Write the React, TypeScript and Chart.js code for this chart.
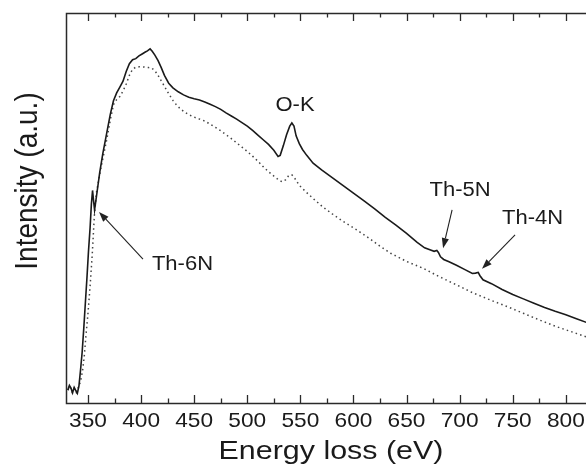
import React, { useEffect, useRef } from "react";
import { Chart, registerables } from "chart.js";
Chart.register(...registerables);

// ---- data (Energy loss in eV, intensity in arbitrary units) ----
const solidEnergy = [331, 332.5, 334, 335.5, 337, 338.5, 340, 341.5, 343, 344.5, 346, 347.5, 349, 350.5, 352, 353.2, 354.3, 355.2, 356.2, 357.5, 359, 361, 364, 367.5, 371, 374, 377, 380, 383, 386, 389, 392, 395, 398, 401, 404, 406, 408.5, 410.5, 413, 416, 419, 422, 426, 430, 435, 440, 445, 450, 455, 460, 465, 470, 475, 480, 485, 490, 495, 500, 505, 510, 515, 520, 525, 529, 531, 534, 537, 540, 542, 544, 546, 549, 552, 556, 562, 570, 580, 590, 600, 610, 620, 630, 640, 650, 660, 667, 672, 676, 678.5, 680, 682, 685, 690, 697, 705, 712, 715, 717.5, 719, 722, 730, 740, 750, 760, 770, 780, 790, 800, 810, 820];
const solidIntensity = [3.3, 4.5, 3.8, 2.6, 4.0, 3.2, 2.5, 4.4, 8.5, 13, 19, 25.5, 32, 39, 45, 51, 54.5, 52, 49.5, 52, 55, 59, 64, 69, 74, 77.5, 79.5, 81, 82.5, 85, 87, 88, 88.3, 89, 89.5, 90, 90.3, 90.8, 90.2, 89.2, 87.8, 86, 84, 82, 80.8, 79.8, 79, 78.4, 78, 77.7, 77.2, 76.6, 76, 75.3, 74.4, 73.6, 72.8, 71.9, 71, 69.9, 68.7, 67.5, 66.3, 64.8, 63.2, 63.5, 66, 68.8, 71, 71.8, 71, 68.5, 66.5, 65, 63.5, 61.5, 59.8, 57.8, 55.8, 53.8, 51.8, 49.8, 47.6, 45.6, 43.5, 41.2, 39.8, 39.3, 38.9, 39.1, 38.6, 37.5, 36.8, 36.2, 35.3, 34.2, 33.2, 33.3, 33.5, 32.7, 31.6, 30.6, 29.1, 27.8, 26.7, 25.6, 24.5, 23.5, 22.6, 21.6, 20.6];

const dottedEnergy = [331, 333, 335, 337, 339, 341, 343, 345, 346.5, 348, 350, 352, 354, 356, 358, 360, 362, 365, 368, 371, 374, 377, 380, 383, 386, 389, 392, 395, 398, 401, 404, 407, 410, 413, 416, 419, 422, 426, 430, 434, 438, 442, 446, 450, 455, 460, 465, 470, 475, 480, 485, 490, 495, 500, 505, 510, 515, 520, 525, 530, 533, 536, 539, 542, 545, 549, 555, 563, 571, 580, 590, 603, 615, 625, 635, 650, 666, 680, 697, 712, 729, 745, 760, 775, 791, 805, 820];
const dottedIntensity = [3.3, 4.2, 2.8, 3.8, 2.7, 4.0, 5.5, 8.5, 12, 17, 23, 30, 38, 48, 54, 57, 60, 64, 68, 72.5, 76.5, 77.8, 78.6, 80, 81.8, 84, 85.6, 86.1, 86.2, 86.2, 86.1, 86, 85.9, 85.2, 84, 82.6, 81.2, 79.3, 77.6, 76.2, 75.2, 74.4, 73.8, 73.3, 72.8, 72.3, 71.5, 70.7, 69.8, 68.8, 67.8, 66.7, 65.6, 64.5, 63.3, 62, 60.6, 59.3, 58.2, 57.1, 56.7, 57.2, 58.3, 58.5, 57.5, 55.8, 54.2, 52.2, 50.3, 48.5, 46.6, 44.4, 42.2, 40.2, 38.4, 36.3, 34.5, 32.5, 30.3, 28.3, 26.4, 24.7, 23, 21.3, 19.6, 18.3, 16.9];

const xMin = 329.3;
const xMax = 819;
const yMin = 0;
const yMax = 100;
const xMajorTicks = [350, 400, 450, 500, 550, 600, 650, 700, 750, 800];
const xMinorTicks = [325, 375, 425, 475, 525, 575, 625, 675, 725, 775];
const xTitle = "Energy loss (eV)";
const yTitle = "Intensity (a.u.)";

// annotations (label centre, arrow tail, arrow tip) in data units
const noteLabels = ["O-K", "Th-5N", "Th-4N", "Th-6N"];
const noteX = [545, 700.4, 768.7, 439];
const noteY = [76.4, 54.6, 47.2, 35.4];
const arrowNames = ["Th-5N", "Th-4N", "Th-6N"];
const arrowTailX = [692.9, 752.2, 401.8];
const arrowTailY = [49.5, 43.1, 36.9];
const arrowTipX = [684.4, 721.1, 360.4];
const arrowTipY = [39.7, 34.4, 49.0];

const FONT = '"Liberation Sans", Arial, Helvetica, sans-serif';
const INK = "#1a1a1a";

function stretchedText(ctx: CanvasRenderingContext2D, text: string, x: number, y: number, size: number, sx: number, sy: number, rot: number) {
  ctx.save();
  ctx.translate(x, y);
  if (rot) ctx.rotate(rot);
  ctx.scale(sx, sy);
  ctx.font = `${size}px ${FONT}`;
  ctx.fillStyle = INK;
  ctx.textAlign = "center";
  ctx.textBaseline = "middle";
  ctx.fillText(text, 0, 0);
  ctx.restore();
}

const framePlugin = {
  id: "eelsFrame",
  afterDraw(chart: any) {
    const ctx: CanvasRenderingContext2D = chart.ctx;
    const { left, top, right, bottom } = chart.chartArea;
    const xs = chart.scales.x;
    const ys = chart.scales.y;
    ctx.save();
    // frame (left, top, bottom; right side is cut off)
    ctx.strokeStyle = "#2a2a2a";
    ctx.lineWidth = 1.5;
    ctx.beginPath();
    ctx.moveTo(right + 2, top + 0.5);
    ctx.lineTo(left + 0.5, top + 0.5);
    ctx.lineTo(left + 0.5, bottom + 0.5);
    ctx.lineTo(right + 2, bottom + 0.5);
    ctx.stroke();
    // ticks, inward
    ctx.lineWidth = 1.3;
    ctx.beginPath();
    for (const v of xMajorTicks) {
      const px = Math.round(xs.getPixelForValue(v)) + 0.5;
      ctx.moveTo(px, bottom);
      ctx.lineTo(px, bottom - 8);
      ctx.moveTo(px, top);
      ctx.lineTo(px, top + 8);
    }
    for (const v of xMinorTicks) {
      if (v < xMin || v > xMax) continue;
      const px = Math.round(xs.getPixelForValue(v)) + 0.5;
      ctx.moveTo(px, bottom);
      ctx.lineTo(px, bottom - 4.5);
      ctx.moveTo(px, top);
      ctx.lineTo(px, top + 4.5);
    }
    ctx.stroke();
    // tick labels
    for (const v of xMajorTicks) {
      stretchedText(ctx, String(v), xs.getPixelForValue(v), bottom + 18, 21, 1.08, 1, 0);
    }
    // axis titles
    stretchedText(ctx, xTitle, (left + right) / 2 + 5, bottom + 49, 26, 1.17, 1, 0);
    stretchedText(ctx, yTitle, left - 38, top + 168, 28, 1, 1.15, -Math.PI / 2);
    // arrows
    ctx.strokeStyle = "#222";
    ctx.fillStyle = "#222";
    ctx.lineWidth = 1.1;
    for (let i = 0; i < arrowNames.length; i++) {
      const x0 = xs.getPixelForValue(arrowTailX[i]);
      const y0 = ys.getPixelForValue(arrowTailY[i]);
      const x1 = xs.getPixelForValue(arrowTipX[i]);
      const y1 = ys.getPixelForValue(arrowTipY[i]);
      const ang = Math.atan2(y1 - y0, x1 - x0);
      const hl = 10;
      const hw = 3.6;
      const bx = x1 - hl * Math.cos(ang);
      const by = y1 - hl * Math.sin(ang);
      ctx.beginPath();
      ctx.moveTo(x0, y0);
      ctx.lineTo(bx, by);
      ctx.stroke();
      ctx.beginPath();
      ctx.moveTo(x1, y1);
      ctx.lineTo(bx + hw * Math.sin(ang), by - hw * Math.cos(ang));
      ctx.lineTo(bx - hw * Math.sin(ang), by + hw * Math.cos(ang));
      ctx.closePath();
      ctx.fill();
    }
    // labels
    for (let i = 0; i < noteLabels.length; i++) {
      stretchedText(ctx, noteLabels[i], xs.getPixelForValue(noteX[i]), ys.getPixelForValue(noteY[i]), 20, 1.1, 1, 0);
    }
    ctx.restore();
  },
};

export default function App() {
  const canvasRef = useRef<HTMLCanvasElement | null>(null);
  useEffect(() => {
    if (!canvasRef.current) return;
    const chart = new Chart(canvasRef.current, {
      type: "line",
      data: {
        datasets: [
          {
            label: "solid",
            data: solidEnergy.map((e, i) => ({ x: e, y: solidIntensity[i] })),
            borderColor: "#1a1a1a",
            borderWidth: 1.6,
            pointRadius: 0,
            tension: 0,
            fill: false,
          },
          {
            label: "dotted",
            data: dottedEnergy.map((e, i) => ({ x: e, y: dottedIntensity[i] })),
            borderColor: "#444444",
            borderWidth: 1.5,
            borderDash: [1.5, 3.2],
            pointRadius: 0,
            tension: 0,
            fill: false,
          },
        ],
      },
      options: {
        animation: false,
        responsive: true,
        maintainAspectRatio: false,
        events: [],
        layout: { padding: { left: 66, top: 13, right: 0, bottom: 66 } },
        plugins: { legend: { display: false }, tooltip: { enabled: false }, title: { display: false } },
        scales: {
          x: { type: "linear", min: xMin, max: xMax, display: false },
          y: { type: "linear", min: yMin, max: yMax, display: false },
        },
      },
      plugins: [framePlugin],
    });
    return () => chart.destroy();
  }, []);
  return (
    <div style={{ position: "absolute", left: 0, top: 0, width: 586, height: 469, background: "#fff" }}>
      <canvas ref={canvasRef} />
    </div>
  );
}
